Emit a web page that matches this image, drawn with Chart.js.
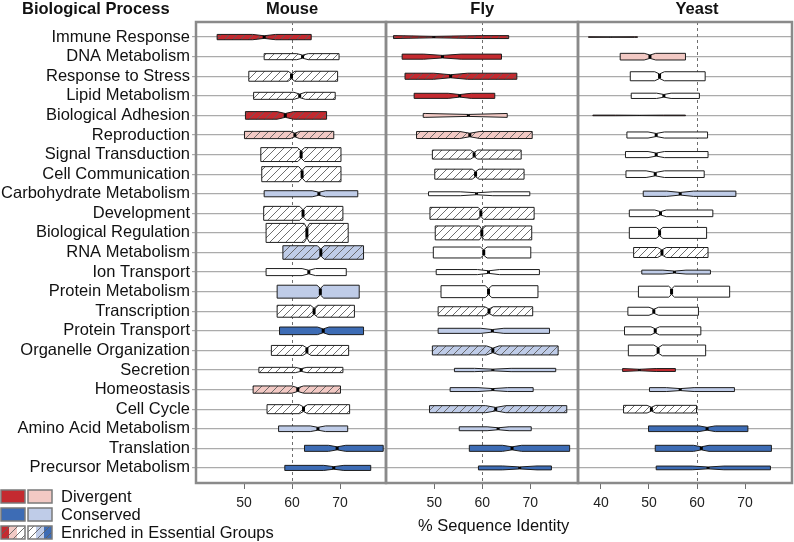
<!DOCTYPE html>
<html>
<head>
  <meta charset="UTF-8">
  <style>
    body { margin: 0; background: #fff; }
    #wrap { width: 794px; height: 542px; }
  </style>
</head>
<body>
  <div id="wrap"><canvas id="box_chart"></canvas></div>

  <script src="https://cdn.jsdelivr.net/npm/chart.js"></script>
  <script>
    const processes = [
      'Immune Response', 'DNA Metabolism', 'Response to Stress', 'Lipid Metabolism',
      'Biological Adhesion', 'Reproduction', 'Signal Transduction', 'Cell Communication',
      'Carbohydrate Metabolism', 'Development', 'Biological Regulation', 'RNA Metabolism',
      'Ion Transport', 'Protein Metabolism', 'Transcription', 'Protein Transport',
      'Organelle Organization', 'Secretion', 'Homeostasis', 'Cell Cycle',
      'Amino Acid Metabolism', 'Translation', 'Precursor Metabolism'
    ];

    // % sequence identity: lower hinge, median, upper hinge, notch half width
    const mouseQ1 = [44.4, 54.2, 51.0, 52.0, 50.3, 50.1, 53.5, 53.7, 54.2, 54.1, 54.6, 58.1, 54.6, 56.9, 56.9, 57.4, 55.7, 53.1, 51.9, 54.8, 57.2, 62.6, 58.5];
    const mouseMed = [54.2, 62.2, 59.9, 61.6, 58.6, 60.6, 61.9, 62.1, 65.6, 62.3, 63.1, 66.0, 63.5, 65.9, 64.6, 66.5, 63.1, 61.9, 61.2, 62.4, 65.4, 69.4, 68.7];
    const mouseQ3 = [64.0, 69.8, 69.5, 69.0, 67.2, 68.7, 70.2, 70.2, 73.7, 70.6, 71.7, 74.9, 71.3, 74.0, 73.0, 74.9, 71.8, 70.6, 70.1, 72.0, 71.6, 79.0, 76.4];
    const mouseNotch = [2.4, 1.2, 0.7, 1.2, 1.7, 1.0, 0.7, 0.7, 1.4, 0.7, 0.55, 0.7, 1.4, 0.7, 0.75, 1.2, 0.85, 1.2, 1.2, 0.85, 1.6, 1.8, 2.1];

    const flyQ1 = [41.5, 43.3, 43.9, 45.8, 47.7, 46.3, 49.6, 50.1, 48.8, 49.1, 50.2, 49.8, 50.4, 51.4, 50.8, 50.8, 49.6, 54.2, 53.3, 49.0, 55.2, 57.3, 59.2];
    const flyMed = [49.9, 51.7, 53.4, 55.3, 57.1, 57.4, 58.3, 58.6, 58.8, 59.7, 59.9, 60.3, 61.3, 61.3, 61.4, 62.1, 62.2, 62.2, 62.2, 62.8, 63.3, 66.2, 67.8];
    const flyQ3 = [65.5, 64.0, 67.2, 62.6, 65.2, 70.4, 68.1, 68.7, 69.9, 70.8, 70.3, 70.1, 71.9, 71.6, 70.5, 74.0, 75.8, 75.3, 70.6, 77.6, 70.2, 78.2, 74.4];
    const flyNotch = [10, 3.9, 3.5, 2.4, 9, 2.1, 0.75, 0.7, 3.4, 0.55, 0.5, 0.7, 2.3, 0.7, 0.9, 2.4, 1.3, 3.8, 3.1, 2.1, 2.3, 2.0, 3.6];

    const yeastQ1 = [37.4, 44.0, 46.1, 46.3, 38.3, 45.4, 45.1, 45.2, 48.8, 45.9, 45.9, 46.8, 48.5, 47.8, 45.6, 44.9, 45.7, 44.5, 50.1, 44.7, 49.9, 51.3, 51.5];
    const yeastMed = [42.0, 50.2, 52.2, 53.1, 48.0, 51.5, 51.5, 51.3, 56.5, 52.4, 52.2, 52.7, 55.3, 54.7, 51.0, 51.3, 51.9, 48.0, 56.5, 50.5, 62.1, 60.9, 62.3];
    const yeastQ3 = [47.6, 57.6, 61.7, 60.5, 57.6, 62.2, 62.3, 61.5, 68.1, 63.3, 62.0, 62.3, 62.8, 66.8, 60.3, 60.8, 61.8, 55.5, 67.8, 59.9, 70.6, 75.5, 75.3];
    const yeastNotch = [5, 1.2, 1.0, 1.5, 5, 1.7, 1.7, 1.9, 2.8, 1.2, 0.7, 0.9, 2.4, 0.6, 1.0, 0.9, 0.9, 3.5, 2.9, 0.9, 1.7, 1.6, 3.3];

    // relative box thickness (group size), as a share of one row
    const mouseSize = [0.27, 0.31, 0.51, 0.36, 0.39, 0.37, 0.71, 0.77, 0.31, 0.71, 0.97, 0.69, 0.36, 0.66, 0.61, 0.39, 0.51, 0.27, 0.37, 0.46, 0.29, 0.31, 0.26];
    const flySize = [0.15, 0.26, 0.31, 0.26, 0.2, 0.36, 0.46, 0.51, 0.2, 0.61, 0.71, 0.56, 0.26, 0.61, 0.46, 0.26, 0.46, 0.17, 0.2, 0.36, 0.2, 0.31, 0.2];
    const yeastSize = [0.03, 0.34, 0.46, 0.27, 0.03, 0.31, 0.31, 0.34, 0.27, 0.34, 0.56, 0.51, 0.2, 0.56, 0.41, 0.41, 0.55, 0.15, 0.2, 0.39, 0.29, 0.31, 0.19];

    // DR/LR divergent, LB/DB conserved, W neither; hatch = enriched in essential groups
    const mouseGroup = ['DR','W','W','W','DR','LR','W','W','LB','W','W','LB','W','LB','W','DB','W','W','LR','W','LB','DB','DB'];
    const mouseHatch = [1,1,1,1,1,1,1,1,0,1,1,1,0,0,1,0,1,1,1,1,0,0,0];
    const flyGroup = ['DR','DR','DR','DR','LR','LR','W','W','W','W','W','W','W','W','W','LB','LB','LB','LB','LB','LB','DB','DB'];
    const flyHatch = [1,0,1,0,0,1,1,1,0,1,1,0,0,0,1,0,1,0,0,1,0,0,0];
    const yeastGroup = ['DR','LR','W','W','DR','W','W','W','LB','W','W','W','LB','W','W','W','W','DR','LB','W','DB','DB','DB'];
    const yeastHatch = [0,0,0,0,0,0,0,0,0,0,0,1,0,0,0,0,0,0,0,1,0,0,0];

    const mouseTicks = [50, 60, 70];
    const flyTicks = [50, 60, 70];
    const yeastTicks = [40, 50, 60, 70];

    const groupColors = { DR: '#c42a30', LR: '#f2c9c4', W: '#ffffff', LB: '#bfcce8', DB: '#3d6cb5' };
    const fontFamily = '"Liberation Sans", Arial, Helvetica, sans-serif';

    const panels = [
      { name: 'Mouse', axis: 'xMouse', q1: mouseQ1, med: mouseMed, q3: mouseQ3, notch: mouseNotch, size: mouseSize, group: mouseGroup, hatch: mouseHatch },
      { name: 'Fly', axis: 'xFly', q1: flyQ1, med: flyMed, q3: flyQ3, notch: flyNotch, size: flySize, group: flyGroup, hatch: flyHatch },
      { name: 'Yeast', axis: 'xYeast', q1: yeastQ1, med: yeastMed, q3: yeastQ3, notch: yeastNotch, size: yeastSize, group: yeastGroup, hatch: yeastHatch }
    ];

    function makeHatch(ctx) {
      const c = document.createElement('canvas');
      c.width = 8; c.height = 8;
      const g = c.getContext('2d');
      g.strokeStyle = '#5f5f5f';
      g.lineWidth = 0.9;
      g.beginPath();
      g.moveTo(0, 8); g.lineTo(8, 0);
      g.moveTo(-2, 2); g.lineTo(2, -2);
      g.moveTo(6, 10); g.lineTo(10, 6);
      g.stroke();
      return ctx.createPattern(c, 'repeat');
    }

    // notched box, horizontal
    function drawBox(ctx, l, r, m, nl, nh, y, h, fill, hatch) {
      const p = h * 0.5;
      ctx.beginPath();
      ctx.moveTo(l, y - h);
      ctx.lineTo(nl, y - h);
      ctx.lineTo(m, y - p);
      ctx.lineTo(nh, y - h);
      ctx.lineTo(r, y - h);
      ctx.lineTo(r, y + h);
      ctx.lineTo(nh, y + h);
      ctx.lineTo(m, y + p);
      ctx.lineTo(nl, y + h);
      ctx.lineTo(l, y + h);
      ctx.closePath();
      ctx.fillStyle = fill;
      ctx.fill();
      if (hatch) {
        ctx.fillStyle = hatch;
        ctx.fill();
      }
      ctx.lineWidth = 1;
      ctx.strokeStyle = '#1e1e1e';
      ctx.stroke();
      ctx.beginPath();
      ctx.lineWidth = 3;
      ctx.strokeStyle = '#000';
      ctx.moveTo(m, y - p);
      ctx.lineTo(m, y + p);
      ctx.stroke();
    }

    const boxPlugin = {
      id: 'notchedBoxes',
      afterDatasetsDraw(chart) {
        const ctx = chart.ctx;
        const yScale = chart.scales.y;
        const step = Math.abs(yScale.getPixelForValue(1) - yScale.getPixelForValue(0));
        const hatch = makeHatch(ctx);
        ctx.save();
        panels.forEach((pn, d) => {
          const meta = chart.getDatasetMeta(d);
          const xs = chart.scales[meta.xAxisID];
          meta.data.forEach((bar, i) => {
            const l = Math.min(bar.base, bar.x);
            const r = Math.max(bar.base, bar.x);
            const m = xs.getPixelForValue(pn.med[i]);
            const nl = Math.max(l, xs.getPixelForValue(pn.med[i] - pn.notch[i]));
            const nh = Math.min(r, xs.getPixelForValue(pn.med[i] + pn.notch[i]));
            const h = pn.size[i] * step / 2;
            drawBox(ctx, l, r, m, nl, nh, bar.y, h, groupColors[pn.group[i]], pn.hatch[i] ? hatch : null);
          });
        });
        ctx.restore();
      },
      afterDraw(chart) {
        const ctx = chart.ctx;
        const area = chart.chartArea;
        ctx.save();
        // panel frames
        ctx.strokeStyle = '#8a8a8a';
        ctx.lineWidth = 2.5;
        panels.forEach(pn => {
          const xs = chart.scales[pn.axis];
          ctx.strokeRect(xs.left, area.top, xs.right - xs.left, area.bottom - area.top);
        });
        // titles
        ctx.fillStyle = '#111';
        ctx.textBaseline = 'middle';
        ctx.font = 'bold 16.5px ' + fontFamily;
        ctx.textAlign = 'left';
        ctx.fillText('Biological Process', 22, 9);
        ctx.textAlign = 'center';
        panels.forEach(pn => {
          const xs = chart.scales[pn.axis];
          ctx.fillText(pn.name, xs.getPixelForValue(60), 9);
        });
        ctx.font = '16.5px ' + fontFamily;
        ctx.textAlign = 'left';
        ctx.fillText('% Sequence Identity', chart.scales.xFly.left + 32, 526);

        // legend
        const hatch = makeHatch(ctx);
        const rows = [
          { label: 'Divergent', cells: [['DR'], ['LR']], hatched: false },
          { label: 'Conserved', cells: [['DB'], ['LB']], hatched: false },
          { label: 'Enriched in Essential Groups', cells: [['DR', 'LR', 'W'], ['W', 'LB', 'DB']], hatched: true }
        ];
        rows.forEach((row, k) => {
          const top = 490 + k * 18;
          row.cells.forEach((parts, j) => {
            const x0 = 1 + j * 27, w = 24, hgt = 13;
            parts.forEach((g, q) => {
              const px = x0 + q * w / parts.length;
              ctx.fillStyle = groupColors[g];
              ctx.fillRect(px, top, w / parts.length, hgt);
              if (row.hatched) {
                ctx.fillStyle = hatch;
                ctx.fillRect(px, top, w / parts.length, hgt);
              }
            });
            ctx.strokeStyle = '#7a7a7a';
            ctx.lineWidth = 1.5;
            ctx.strokeRect(x0, top, w, hgt);
          });
          ctx.fillStyle = '#111';
          ctx.font = '16.5px ' + fontFamily;
          ctx.textAlign = 'left';
          ctx.fillText(row.label, 61, top + 7);
        });
        ctx.restore();
      }
    };

    function xScale(range, ticks, weight) {
      return {
        type: 'linear', axis: 'x', position: 'bottom',
        stack: 'panels', stackWeight: weight,
        min: range[0], max: range[1],
        afterBuildTicks: s => { s.ticks = ticks.map(v => ({ value: v })); },
        afterFit: s => { s.height = 59; },
        ticks: {
          autoSkip: false, maxRotation: 0, padding: 6, color: '#222',
          font: { family: fontFamily, size: 14 }
        },
        grid: {
          color: c => (c.tick && c.tick.value === 60) ? '#6e6e6e' : 'rgba(0,0,0,0)',
          tickColor: '#6e6e6e',
          tickBorderDash: [],
          tickLength: 6,
          lineWidth: 1
        },
        border: { display: false, dash: [3, 3] }
      };
    }

    const datasets = panels.map(pn => ({
      label: pn.name,
      xAxisID: pn.axis,
      yAxisID: 'y',
      grouped: false,
      data: pn.q1.map((lo, i) => ({ y: i, x: [lo, pn.q3[i]] })),
      backgroundColor: 'rgba(0,0,0,0)',
      borderWidth: 0
    }));

    const chart = new Chart(document.getElementById('box_chart'), {
      type: 'bar',
      data: { datasets: datasets },
      options: {
        indexAxis: 'y',
        responsive: true,
        maintainAspectRatio: false,
        animation: false,
        events: [],
        layout: { padding: { top: 22, right: 2, left: 0, bottom: 0 } },
        plugins: { legend: { display: false }, tooltip: { enabled: false } },
        scales: {
          y: {
            type: 'linear', position: 'left', reverse: true,
            offset: false,
            min: -0.77, max: 22.77,
            afterBuildTicks: s => { s.ticks = processes.map((_, i) => ({ value: i })); },
            afterFit: s => { s.width = 196; },
            ticks: {
              autoSkip: false, padding: 2, color: '#111',
              font: { family: fontFamily, size: 16.5 },
              callback: v => processes[v]
            },
            grid: { color: '#ababab', lineWidth: 1.2, tickLength: 4, offset: false },
            border: { display: false }
          },
          xMouse: xScale([40, 79.58], mouseTicks, 190),
          xFly: xScale([39.94, 79.94], flyTicks, 192),
          xYeast: xScale([35.21, 79.79], yeastTicks, 214)
        }
      },
      plugins: [boxPlugin]
    });
  </script>
</body>
</html>
